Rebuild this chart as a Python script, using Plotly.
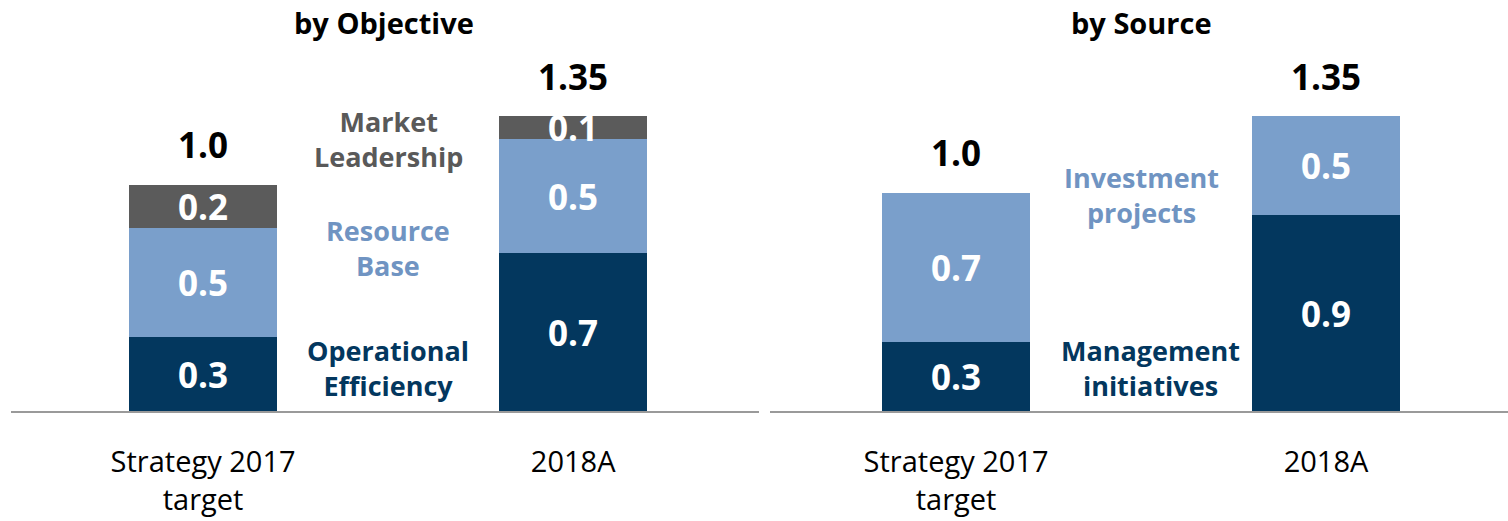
import plotly.graph_objects as go

# ---------------- data ----------------
categories = ["Strategy 2017<br>target", "2018A"]

# by Objective
obj_operational = [0.34, 0.725]
obj_resource = [0.50, 0.52]
obj_market = [0.197, 0.105]
obj_operational_lbl = ["0.3", "0.7"]
obj_resource_lbl = ["0.5", "0.5"]
obj_market_lbl = ["0.2", "0.1"]
obj_totals_lbl = ["1.0", "1.35"]

# by Source
src_management = [0.316, 0.896]
src_investment = [0.684, 0.454]
src_management_lbl = ["0.3", "0.9"]
src_investment_lbl = ["0.7", "0.5"]
src_totals_lbl = ["1.0", "1.35"]

# ---------------- style ----------------
DARK = "#03375e"
LIGHT = "#7a9fcb"
GREY = "#5b5b5b"
FONT = "Open Sans"
BAR_W = 0.4
VAL_SIZE = 35

fig = go.Figure()


def add_bar(xaxis, yaxis, vals, lbls, color):
    fig.add_trace(go.Bar(
        x=categories, y=vals, text=lbls, textposition="inside",
        insidetextanchor="middle", constraintext="none",
        textfont=dict(family=FONT, size=VAL_SIZE, color="white", weight="bold"),
        marker=dict(color=color, line=dict(width=0)),
        width=BAR_W, xaxis=xaxis, yaxis=yaxis, showlegend=False,
        hoverinfo="skip",
    ))


add_bar("x", "y", obj_operational, obj_operational_lbl, DARK)
add_bar("x", "y", obj_resource, obj_resource_lbl, LIGHT)
add_bar("x", "y", obj_market, obj_market_lbl, GREY)
add_bar("x2", "y2", src_management, src_management_lbl, DARK)
add_bar("x2", "y2", src_investment, src_investment_lbl, LIGHT)

annotations = []

# totals above bars
obj_tot = [a + b + c for a, b, c in zip(obj_operational, obj_resource, obj_market)]
src_tot = [a + b for a, b in zip(src_management, src_investment)]
for cat, t, lbl in zip(categories, obj_tot, obj_totals_lbl):
    annotations.append(dict(x=cat, y=t, xref="x", yref="y", text=f"<b>{lbl}</b>",
                            showarrow=False, yanchor="middle", yshift=40,
                            font=dict(family=FONT, size=VAL_SIZE, color="black")))
for cat, t, lbl in zip(categories, src_tot, src_totals_lbl):
    annotations.append(dict(x=cat, y=t, xref="x2", yref="y2", text=f"<b>{lbl}</b>",
                            showarrow=False, yanchor="middle", yshift=40,
                            font=dict(family=FONT, size=VAL_SIZE, color="black")))

# series labels
SER_SIZE = 27
series_labels = [
    ("x", "y", 0.5, 1.246, "Market<br>Leadership", "#595959"),
    ("x", "y", 0.5, 0.745, "Resource<br>Base", "#7094c2"),
    ("x", "y", 0.5, 0.198, "Operational<br>Efficiency", DARK),
    ("x2", "y2", 0.5, 0.99, "Investment<br>projects", "#7094c2"),
    ("x2", "y2", 0.525, 0.198, "Management<br>initiatives", DARK),
]
for xr, yr, xv, yv, txt, col in series_labels:
    annotations.append(dict(x=xv, y=yv, xref=xr, yref=yr, text=f"<b>{txt}</b>",
                            showarrow=False, xanchor="center", yanchor="middle",
                            font=dict(family=FONT, size=SER_SIZE, color=col)))

# panel titles
annotations.append(dict(x=384 / 1508, y=1.108, xref="paper", yref="paper",
                        text="<b>by Objective</b>", showarrow=False,
                        xanchor="center", yanchor="middle",
                        font=dict(family=FONT, size=29, color="black")))
annotations.append(dict(x=1141 / 1508, y=1.108, xref="paper", yref="paper",
                        text="<b>by Source</b>", showarrow=False,
                        xanchor="center", yanchor="middle",
                        font=dict(family=FONT, size=29, color="black")))

YMAX = 351 / 218.4
xaxis_common = dict(showline=True, linecolor="#9a9a9a", linewidth=2,
                    ticks="", showgrid=False, zeroline=False,
                    tickfont=dict(family=FONT, size=29, color="black"),
                    ticklabelstandoff=24,
                    type="category")
yaxis_common = dict(visible=False, range=[0, YMAX], showgrid=False, zeroline=False)

fig.update_layout(
    width=1508, height=521,
    margin=dict(l=0, r=0, t=60, b=110),
    paper_bgcolor="white", plot_bgcolor="white",
    barmode="stack", bargap=0,
    uniformtext=dict(minsize=VAL_SIZE, mode="show"),
    xaxis=dict(domain=[11 / 1508, 759 / 1508], range=[-0.519, 1.502],
               anchor="y", **xaxis_common),
    xaxis2=dict(domain=[770 / 1508, 1.0], range=[-0.503, 1.492],
                anchor="y2", **xaxis_common),
    yaxis=dict(anchor="x", **yaxis_common),
    yaxis2=dict(anchor="x2", **yaxis_common),
    annotations=annotations,
)

fig.write_html("out.html",
               config={"displayModeBar": False},
               post_script="document.body.style.margin='0';document.body.style.padding='0';")
